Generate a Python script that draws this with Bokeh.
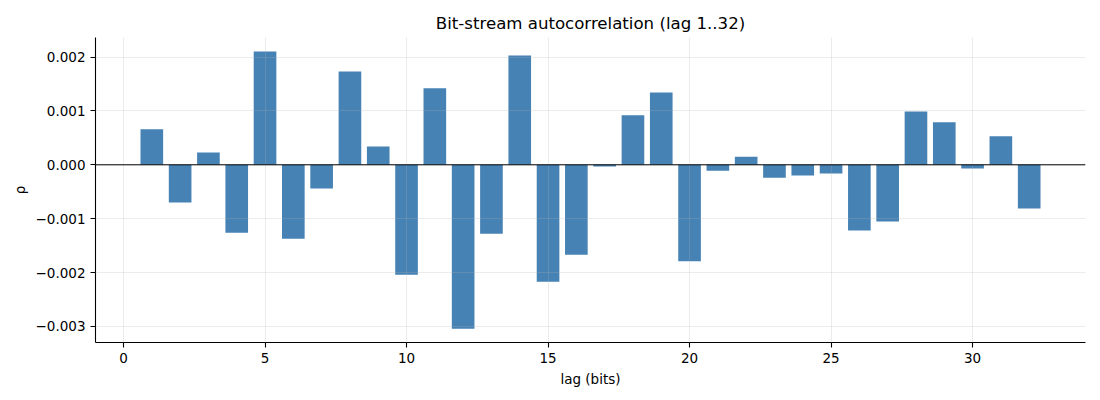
from bokeh.plotting import figure
from bokeh.models import Span, FixedTicker, CustomJSTickFormatter, Range1d, ColumnDataSource
from bokeh.embed import file_html
from bokeh.resources import INLINE

lags = list(range(1, 33))
rho = [0.00066, -0.00070, 0.00023, -0.00126, 0.00210, -0.00137, -0.00044, 0.00173,
       0.00034, -0.00204, 0.00142, -0.00304, -0.00128, 0.00203, -0.00217, -0.00167,
       -0.00003, 0.00092, 0.00134, -0.00179, -0.00011, 0.00015, -0.00024, -0.00020,
       -0.00016, -0.00122, -0.00105, 0.00099, 0.00079, -0.00007, 0.00053, -0.00081]
x_ticks = [0, 5, 10, 15, 20, 25, 30]
y_ticks = [-0.003, -0.002, -0.001, 0.0, 0.001, 0.002]

src = ColumnDataSource(dict(lag=lags, rho=rho))

p = figure(width=1092, height=392, output_backend="svg", toolbar_location=None,
           frame_width=990, frame_height=305,
           min_border_left=95, min_border_right=7, min_border_top=37, min_border_bottom=50,
           x_range=Range1d(-0.99, 33.99), y_range=Range1d(-0.003297, 0.002362),
           title="Bit-stream autocorrelation (lag 1..32)")

p.vbar(x="lag", top="rho", bottom=0, width=0.8, source=src,
       fill_color="#4682b4", line_color=None)

p.add_layout(Span(location=0, dimension="width", line_color="black", line_width=1))

p.title.align = "center"
p.title.text_font = "DejaVu Sans"
p.title.text_font_size = "16.6px"
p.title.text_font_style = "normal"
p.title.text_color = "black"

p.outline_line_color = None
p.background_fill_color = "white"
p.border_fill_color = "white"

for ax in (p.xaxis[0], p.yaxis[0]):
    ax.axis_line_color = "black"
    ax.axis_line_width = 1.1
    ax.major_tick_line_color = "black"
    ax.major_tick_line_width = 1.1
    ax.major_tick_out = 5
    ax.major_tick_in = 0
    ax.minor_tick_line_color = None
    ax.major_label_text_font = "DejaVu Sans"
    ax.major_label_text_font_size = "13.5px"
    ax.major_label_text_color = "black"
    ax.axis_label_text_font = "DejaVu Sans"
    ax.axis_label_text_font_size = "13.5px"
    ax.axis_label_text_font_style = "normal"
    ax.axis_label_text_color = "black"

p.xaxis.ticker = FixedTicker(ticks=x_ticks)
p.yaxis.ticker = FixedTicker(ticks=y_ticks)
p.yaxis.formatter = CustomJSTickFormatter(code="""
    const v = Math.abs(tick) < 1e-12 ? 0 : tick;
    return (v < 0 ? '\u2212' : '') + Math.abs(v).toFixed(3);
""")
p.xaxis.axis_label = "lag (bits)"
p.yaxis.axis_label = "ρ"

for g in (p.xgrid[0], p.ygrid[0]):
    g.grid_line_color = "#b0b0b0"
    g.grid_line_alpha = 0.3
    g.grid_line_width = 0.8
    g.level = "annotation"

open("out.html", "w").write(file_html(p, INLINE))
